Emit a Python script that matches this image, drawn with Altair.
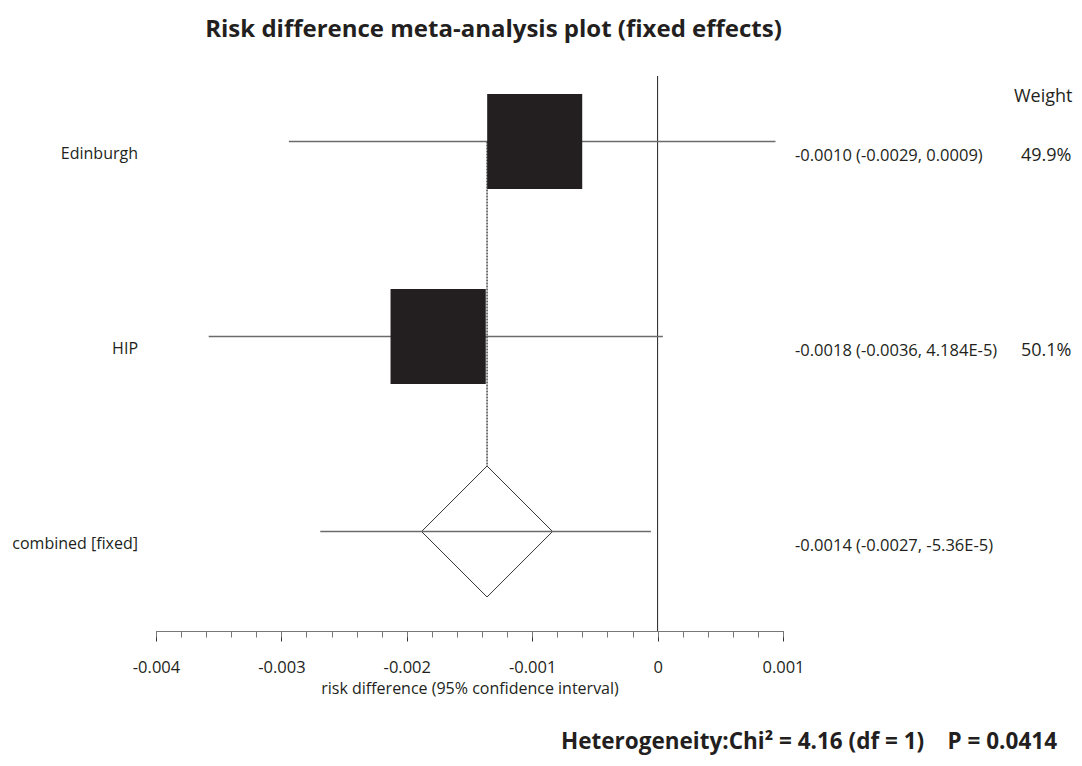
import altair as alt
import pandas as pd

# ---- data ----
studies = ["Edinburgh", "HIP", "combined [fixed]"]
estimate = [-0.00098, -0.00175, -0.00136]
ci_low = [-0.00294, -0.00358, -0.00269]
ci_high = [0.00094, 0.00004184, -0.0000536]
ci_text = ["-0.0010 (-0.0029, 0.0009)", "-0.0018 (-0.0036, 4.184E-5)", "-0.0014 (-0.0027, -5.36E-5)"]
weights = [49.9, 50.1]
weight_text = ["49.9%", "50.1%"]
x_major = [-0.004, -0.003, -0.002, -0.001, 0.0, 0.001]
x_minor = [-0.004, -0.0038, -0.0036, -0.0034, -0.0032, -0.003, -0.0028, -0.0026,
           -0.0024, -0.0022, -0.002, -0.0018, -0.0016, -0.0014, -0.0012, -0.001,
           -0.0008, -0.0006, -0.0004, -0.0002, 0.0, 0.0002, 0.0004, 0.0006,
           0.0008, 0.001]
title_text = "Risk difference meta-analysis plot (fixed effects)"
x_title = "risk difference (95% confidence interval)"
weight_header = "Weight"
footer_text = "Heterogeneity:Chi\u00b2 = 4.16 (df = 1)\u00a0\u00a0\u00a0\u00a0P = 0.0414"

FONT = "Open Sans"
INK = "#231f20"
W, H = 627, 555

df = pd.DataFrame({
    "study": studies,
    "row": list(range(len(studies))),
    "est": estimate,
    "lo": ci_low,
    "hi": ci_high,
    "ci_text": ci_text,
})
df_sq = df.iloc[:len(weights)].copy()
df_sq["weight"] = weights
df_sq["weight_text"] = weight_text
df_comb = df.iloc[[-1]].copy()
df_v = pd.DataFrame({"x": [estimate[-1]], "r0": [0], "r1": [len(studies) - 1]})

xscale = alt.Scale(domain=[-0.004, 0.001], nice=False, zero=False)
yscale = alt.Scale(domain=[0, 2], range=[65.5, 455.5], zero=False, nice=False)

label_expr = "datum.value == 0 ? '0' : (datum.value < 0 ? '-' : '') + format(abs(datum.value), '.3f')"

major_axis = alt.Axis(values=x_major, orient="bottom", tickSize=10, tickColor="#333333",
                      tickWidth=1, domain=False, grid=False, labelExpr=label_expr,
                      labelFlush=False, labelOverlap=False, labelFont=FONT, labelFontSize=16.5,
                      labelColor=INK, labelPadding=18, title=x_title, titleFont=FONT,
                      titleFontSize=16, titleFontWeight="normal", titleColor=INK,
                      titlePadding=5)
minor_axis = alt.Axis(values=x_minor, orient="bottom", tickSize=6, tickColor="#777777",
                      tickWidth=1, domain=True, domainColor="#777777", domainWidth=1,
                      grid=False, labels=False, title=None)

zero = alt.Chart(df.head(1)).mark_rule(color=INK, strokeWidth=1).encode(
    x=alt.XDatum(0, scale=xscale, axis=None),
    y=alt.value(0), y2=alt.value(H))

vline = alt.Chart(df_v).mark_rule(color="#555555", strokeWidth=1.6, strokeDash=[2, 1]).encode(
    x=alt.X("x:Q", scale=xscale, axis=None),
    y=alt.Y("r0:Q", scale=yscale, axis=None), y2="r1:Q")

diamond = alt.Chart(df_comb).mark_point(shape="diamond", filled=True, fill="white",
                                        stroke="#333333", strokeWidth=1, opacity=1,
                                        size=17161).encode(
    x=alt.X("est:Q", scale=xscale, axis=None),
    y=alt.Y("row:Q", scale=yscale, axis=None))

ci = alt.Chart(df).mark_rule(color="#6b6b6b", strokeWidth=1.4).encode(
    x=alt.X("lo:Q", scale=xscale, axis=major_axis), x2="hi:Q",
    y=alt.Y("row:Q", scale=yscale, axis=None))

squares = alt.Chart(df_sq).mark_square(color=INK, opacity=1, filled=True).encode(
    x=alt.X("est:Q", scale=xscale, axis=minor_axis),
    y=alt.Y("row:Q", scale=yscale, axis=None),
    size=alt.Size("weight:Q", scale=alt.Scale(domain=[0, 100], range=[0, 18100]), legend=None))

left_lbl = alt.Chart(df).mark_text(align="right", baseline="middle", dy=12, font=FONT,
                                   fontSize=16, color=INK).encode(
    x=alt.value(-18), y=alt.Y("row:Q", scale=yscale, axis=None), text="study:N")

right_lbl = alt.Chart(df).mark_text(align="left", baseline="middle", dy=14, font=FONT,
                                    fontSize=16.5, color=INK).encode(
    x=alt.value(639), y=alt.Y("row:Q", scale=yscale, axis=None), text="ci_text:N")

w_lbl = alt.Chart(df_sq).mark_text(align="left", baseline="middle", dy=14, font=FONT,
                                   fontSize=18, color=INK).encode(
    x=alt.value(865), y=alt.Y("row:Q", scale=yscale, axis=None), text="weight_text:N")

w_head = alt.Chart(pd.DataFrame({"t": [weight_header]})).mark_text(
    align="left", baseline="middle", font=FONT, fontSize=18, color=INK).encode(
    x=alt.value(858), y=alt.value(21), text="t:N")

footer = alt.Chart(pd.DataFrame({"t": [footer_text]})).mark_text(
    align="right", baseline="middle", font=FONT, fontSize=22.5, fontWeight="bold",
    color=INK).encode(x=alt.value(901), y=alt.value(666), text="t:N")

chart = alt.layer(zero, vline, diamond, ci, squares, left_lbl, right_lbl, w_lbl, w_head,
                  footer).resolve_axis(x="independent").properties(
    width=W, height=H,
    autosize=alt.AutoSizeParams(type="none"),
    padding={"left": 148, "top": 68, "right": 291, "bottom": 126},
    title=alt.TitleParams(title_text, font=FONT, fontSize=24, fontWeight="bold", color=INK,
                          anchor="middle", frame="group", dx=24, offset=34),
).configure(font=FONT, background="white").configure_view(strokeWidth=0)

chart.save("out.html", embed_options={"renderer": "svg", "actions": False})
